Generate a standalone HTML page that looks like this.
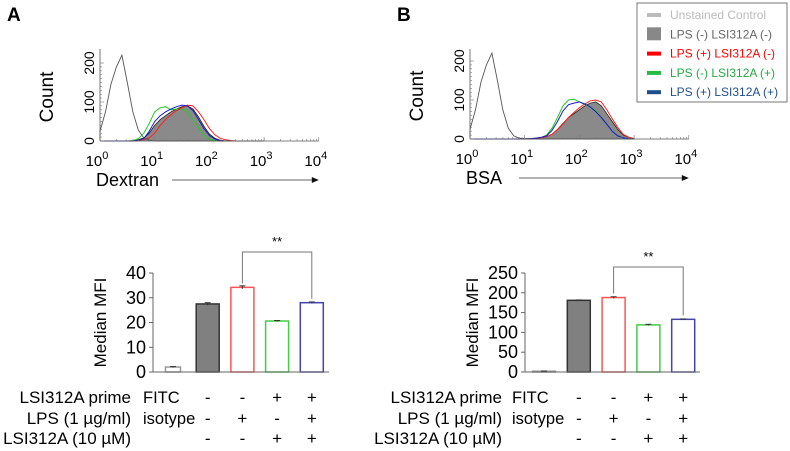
<!DOCTYPE html>
<html><head><meta charset="utf-8"><style>
body{margin:0;background:#fff;}
svg{display:block;font-family:"Liberation Sans",Arial,sans-serif;}
</style></head><body>
<svg id="fig" width="790" height="451" viewBox="0 0 790 451"></svg>
<script>
// ---- Histogram data: counts per bin, bins at log10 = 0,0.1,...,3.0 ----
const histBinStart = 0, histBinStep = 0.1;
const histCountTicks = [0, 100, 200];
const histDecadeTicks = [0, 1, 2, 3, 4];
const legendLabels = ["Unstained Control","LPS (-) LSI312A (-)","LPS (+) LSI312A (-)","LPS (-) LSI312A (+)","LPS (+) LSI312A (+)"];
const aUnstained = [25,75,145,190,220,150,75,28,8,2,0,0,0,0,0,0,0,0,0,0,0,0,0,0,0,0,0,0,0,0,0];
const aGray      = [0,0,0,0,0,0,1,3,8,20,40,55,65,75,82,88,90,82,62,38,18,7,2,0,0,0,0,0,0,0,0];
const aRed       = [0,0,0,0,0,0,0,1,3,8,20,40,55,68,78,85,92,90,75,55,32,16,7,3,1,0,0,0,0,0,0];
const aGreen     = [0,0,0,0,0,0,1,6,20,45,75,85,88,80,82,82,75,55,35,15,5,1,0,0,0,0,0,0,0,0,0];
const aBlue      = [0,0,0,0,0,0,0,2,6,25,50,65,75,82,88,92,90,78,55,32,14,5,1,0,0,0,0,0,0,0,0];
const bUnstained = [25,75,145,190,220,150,75,28,8,2,1,0,0,0,0,0,0,0,0,0,0,0,0,0,0,0,0,0,0,0,0];
const bGray      = [0,0,0,0,0,0,0,0,0,0,0,1,2,3,6,12,25,40,55,65,75,85,92,95,85,65,45,25,10,4,1];
const bRed       = [0,0,0,0,0,0,0,0,0,0,0,1,2,3,6,12,24,38,55,68,80,90,98,100,95,75,52,30,12,5,1];
const bGreen     = [0,0,0,0,0,0,0,0,0,0,0,1,2,4,10,28,55,85,100,102,95,88,82,72,55,38,20,8,3,1,0];
const bBlue      = [0,0,0,0,0,0,0,0,0,0,0,1,2,4,8,22,45,72,88,92,95,90,82,70,55,38,20,8,3,1,0];

// ---- Bar data ----
const barCategories = ["Unstained","LPS(-)LSI(-)","LPS(+)LSI(-)","LPS(-)LSI(+)","LPS(+)LSI(+)"];
const aMFI = [2, 27.5, 34.2, 20.6, 28];
const aErr = [0.2, 0.5, 0.6, 0.2, 0.3];
const aTicks = [0,10,20,30,40];
const bMFI = [2, 181, 188, 119, 133];
const bErr = [0.5, 1, 2, 1.5, 1];
const bTicks = [0,50,100,150,200,250];
const rowLabels = ["LSI312A prime","LPS (1 µg/ml)","LSI312A (10 µM)"];
const rowFirst = ["FITC","isotype",""];
const rowSigns = [["-","-","+","+"],["-","+","-","+"],["-","-","+","+"]];

const NS="http://www.w3.org/2000/svg";
const svg=document.getElementById('fig');
function mk(tag,attrs,parent,text){const e=document.createElementNS(NS,tag);for(const k in attrs)e.setAttribute(k,attrs[k]);if(text!==undefined)e.textContent=text;(parent||svg).appendChild(e);return e;}

function panelLetter(t,x,y){const e=mk('text',{x:x,y:y,'font-size':19,'font-weight':'bold'},svg,t);

}
panelLetter('A',7,21);panelLetter('B',397,21);

function hist(cfg){
  const g=mk('g',{});
  
  
  const X=v=>cfg.x0+v*cfg.dec; const Y=c=>cfg.base-c*cfg.per;
  const series=[
    {d:cfg.gray,fill:'#8a8a8a',stroke:'#222',w:0.8,n:'gray-filled'},
    {d:cfg.green,fill:'none',stroke:'#22cc22',w:1,n:'green'},
    {d:cfg.red,fill:'none',stroke:'#ff2020',w:1,n:'red'},
    {d:cfg.blue,fill:'none',stroke:'#1a1acc',w:1,n:'blue'},
    {d:cfg.un,fill:'none',stroke:'#555',w:0.9,n:'unstained'}];
  series.forEach(s=>{
    let p='M'+X(histBinStart)+','+Y(0);
    s.d.forEach((c,i)=>{p+=' L'+X(histBinStart+i*histBinStep).toFixed(1)+','+Y(c).toFixed(1);});
    p+=' L'+X(histBinStart+(s.d.length-1)*histBinStep)+','+Y(0);
    const e=mk('path',{d:p,fill:s.fill,stroke:s.stroke,'stroke-width':s.w},g);
    
    
  });
  mk('line',{x1:cfg.x0,y1:cfg.top,x2:cfg.x0,y2:cfg.base,stroke:'#555','stroke-width':0.8},g);
  mk('line',{x1:cfg.x0,y1:cfg.base,x2:X(4),y2:cfg.base,stroke:'#555','stroke-width':0.8},g);
  for(let d=0;d<4;d++)for(let k=1;k<=10;k++){const x=X(d+Math.log10(k));mk('line',{x1:x,y1:cfg.base,x2:x,y2:cfg.base-(k==10?4:2),stroke:'#777','stroke-width':0.6},g);}
  for(let c=0;c<=200;c+=10){const y=Y(c);mk('line',{x1:cfg.x0,y1:y,x2:cfg.x0+(c%100==0?4:2),y2:y,stroke:'#777','stroke-width':0.6},g);}
  histDecadeTicks.forEach(d=>{const t=mk('text',{x:X(d)-3,y:cfg.base+25,'font-size':15,'text-anchor':'middle'},g,'10');
    mk('tspan',{dy:-7,'font-size':11},t,String(d));
    
    });
  histCountTicks.forEach(c=>{const t=mk('text',{x:0,y:0,'font-size':14,'text-anchor':'middle',transform:`translate(${cfg.x0-6},${Y(c)}) rotate(-90)`},g,String(c));
    
    });
  const yt=mk('text',{x:0,y:0,'font-size':19,'text-anchor':'middle',transform:`translate(${cfg.x0-47},${(cfg.top+cfg.base)/2+2}) rotate(-90)`},g,'Count');
  
  
  const xt=mk('text',{x:cfg.x0-4,y:cfg.base+45,'font-size':18},g,cfg.xlabel);
  
  
  mk('line',{x1:cfg.arrowX,y1:cfg.base+39,x2:X(4)-6,y2:cfg.base+39,stroke:'#333','stroke-width':0.8},g);
  mk('path',{d:`M${X(4)},${cfg.base+39} l-7,-3 v6 z`,fill:'#111'},g);
}
hist({name:'histogram-dextran',x0:100,dec:54.7,base:141,top:49,per:0.39,un:aUnstained,gray:aGray,red:aRed,green:aGreen,blue:aBlue,xlabel:'Dextran',arrowX:172});
hist({name:'histogram-bsa',x0:470,dec:54.7,base:139,top:49,per:0.39,un:bUnstained,gray:bGray,red:bRed,green:bGreen,blue:bBlue,xlabel:'BSA',arrowX:519});

const lg=mk('g',{});


mk('rect',{x:637,y:3,width:150,height:99,fill:'#fff',stroke:'#777','stroke-width':1},lg);
const legendColors=['#bbb','#888','#ff0000','#22bb44','#1f4e8c'];
const legendText=['#bbb','#666','#ff0000','#22aa44','#1f4e8c'];
legendLabels.forEach((l,i)=>{
  const y=15+i*19.3;
  if(i==1){mk('rect',{x:647,y:y-7,width:14,height:13,fill:'#888'},lg);}
  else mk('rect',{x:647,y:y-2,width:14,height:4,fill:legendColors[i]},lg);
  const t=mk('text',{x:670,y:y+4,'font-size':12,fill:legendText[i]},lg,l);
  
  
});

function bars(cfg){
  const g=mk('g',{});
  
  
  const ymax=cfg.ticks[cfg.ticks.length-1];
  const Y=v=>cfg.base-v/ymax*(cfg.base-cfg.top);
  const fills=['#fff','#808080','#fff','#fff','#fff'];
  const strokes=['#999','#333','#ff5555','#44cc44','#4444aa'];
  cfg.vals.forEach((v,i)=>{
    const cx=cfg.centers0+i*cfg.step, w=(i==0?cfg.w0:cfg.w);
    const r=mk('rect',{x:cx-w/2,y:Y(v),width:w,height:cfg.base-Y(v),fill:fills[i],stroke:strokes[i],'stroke-width':1.5},g);
    
    
    const e=cfg.err[i];
    mk('line',{x1:cx,y1:Y(v+e),x2:cx,y2:Y(v-e),stroke:'#333'},g);
    mk('line',{x1:cx-3,y1:Y(v+e),x2:cx+3,y2:Y(v+e),stroke:'#333'},g);
  });
  mk('line',{x1:cfg.x0,y1:cfg.top,x2:cfg.x0,y2:cfg.base,stroke:'#666'},g);
  mk('line',{x1:cfg.x0,y1:cfg.base,x2:cfg.xEnd,y2:cfg.base,stroke:'#666'},g);
  cfg.ticks.forEach(t=>{mk('line',{x1:cfg.x0-4,y1:Y(t),x2:cfg.x0,y2:Y(t),stroke:'#666'},g);
    const tx=mk('text',{x:cfg.x0-7,y:Y(t)+6,'font-size':18,'text-anchor':'end'},g,String(t));
    
    });
  const yt=mk('text',{x:0,y:0,'font-size':17,'text-anchor':'middle',transform:`translate(${cfg.titleX},${(cfg.top+cfg.base)/2}) rotate(-90)`},g,'Median MFI');
  
  
  const x3=cfg.centers0+2*cfg.step, x5=cfg.centers0+4*cfg.step;
  const br=mk('path',{d:`M${x3},${Y(cfg.vals[2])-4} V${cfg.brY} H${x5} V${Y(cfg.vals[4])-4}`,fill:'none',stroke:'#777','stroke-width':1},g);
  
  
  const st=mk('text',{x:(x3+x5)/2,y:cfg.brY-6,'font-size':13,'text-anchor':'middle'},g,'**');
  
  
  const rowsY=[397,418,438];
  rowLabels.forEach((l,r)=>{
    const t=mk('text',{x:cfg.labelEnd,y:rowsY[r]+6,'font-size':17,'text-anchor':'end'},g,l);
    
    
    if(rowFirst[r]){const f=mk('text',{x:cfg.firstX,y:rowsY[r]+6,'font-size':16.5},g,rowFirst[r]);
      
      }
    rowSigns[r].forEach((s,c)=>{const cx=cfg.centers0+(c+1)*cfg.step;
      const sx=mk('text',{x:cx,y:rowsY[r]+6,'font-size':17,'text-anchor':'middle'},g,s);
      
      });
  });
}
bars({name:'bar-chart-dextran',vals:aMFI,err:aErr,ticks:aTicks,x0:153,xEnd:329,top:273,base:372,centers0:173,step:34.7,w:23,w0:15,titleX:106,brY:252,labelEnd:131,firstX:143});
bars({name:'bar-chart-bsa',vals:bMFI,err:bErr,ticks:bTicks,x0:525,xEnd:700,top:273,base:372,centers0:544,step:34.8,w:23,w0:23,titleX:478,brY:267,labelEnd:502,firstX:512});
</script>
</body></html>
